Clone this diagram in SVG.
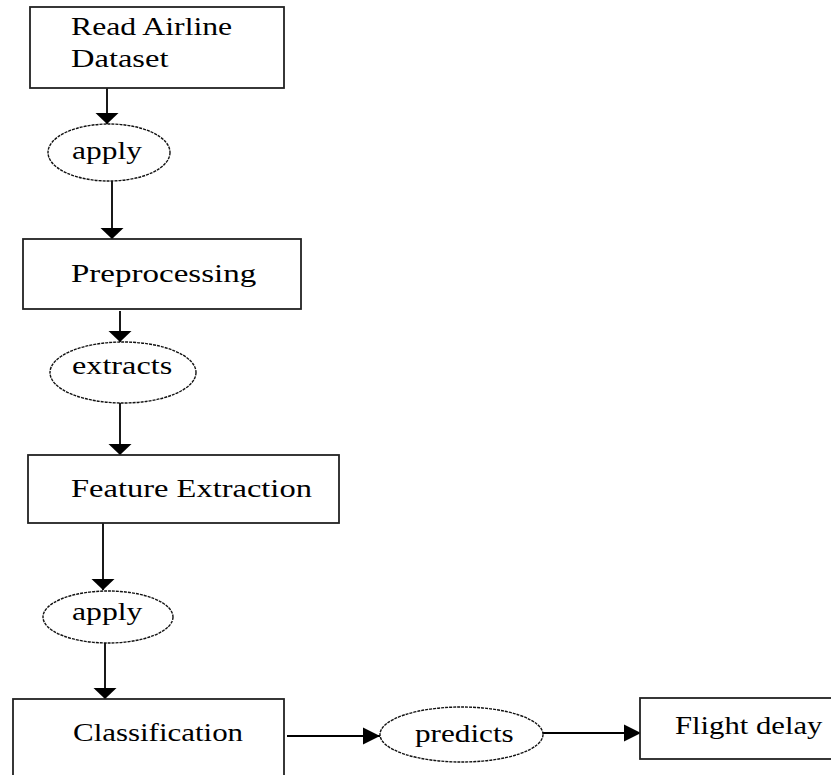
<svg xmlns="http://www.w3.org/2000/svg" width="831" height="775" viewBox="0 0 831 775">
<style>
.box{fill:#fff;stroke:#222;stroke-width:1.8}
.ell{fill:#fff;stroke:#111;stroke-width:1.4;stroke-dasharray:3,1}
.t{font-family:"Liberation Serif","Times New Roman",serif;font-size:26px;fill:#000}
.c{stroke:#000;stroke-width:1.8;fill:none}
</style>
<defs>
<marker id="av" markerUnits="userSpaceOnUse" markerWidth="12" markerHeight="24" refX="11" refY="12" orient="auto" viewBox="0 0 12 24">
<path d="M0,0.5 L11,12 L0,23.5 Z" fill="#000"/>
</marker>
<marker id="ah" markerUnits="userSpaceOnUse" markerWidth="17" markerHeight="18" refX="17" refY="9" orient="auto" viewBox="0 0 17 18">
<path d="M0,0.5 L17,9 L0,17.5 Z" fill="#000"/>
</marker>
</defs>
<rect width="831" height="775" fill="#fff"/>
<g id="connectors">
<line class="c" x1="107" y1="88" x2="107" y2="124" marker-end="url(#av)"/>
<line class="c" x1="112" y1="181" x2="112" y2="239" marker-end="url(#av)"/>
<line class="c" x1="120" y1="311" x2="120" y2="342" marker-end="url(#av)"/>
<line class="c" x1="120" y1="403" x2="120" y2="455" marker-end="url(#av)"/>
<line class="c" x1="103" y1="523" x2="103" y2="590" marker-end="url(#av)"/>
<line class="c" x1="105" y1="643" x2="105" y2="699" marker-end="url(#av)"/>
<line class="c" x1="287" y1="736" x2="380" y2="736" marker-end="url(#ah)"/>
<line class="c" x1="543" y1="733" x2="641" y2="733" marker-end="url(#ah)"/>
</g>
<g id="read-dataset">
<rect class="box" x="30" y="7" width="254" height="81"/>
<text class="t" transform="translate(71,35) scale(1.22,1)">Read Airline</text>
<text class="t" transform="translate(71,67) scale(1.25,1)">Dataset</text>
</g>
<g id="apply1">
<ellipse class="ell" cx="109" cy="152.5" rx="61" ry="28.5"/>
<text class="t" transform="translate(72,159) scale(1.21,1)">apply</text>
</g>
<g id="preprocessing">
<rect class="box" x="23" y="239" width="278" height="70"/>
<text class="t" transform="translate(71,282) scale(1.27,1)">Preprocessing</text>
</g>
<g id="extracts">
<ellipse class="ell" cx="123" cy="372.5" rx="73" ry="30.5"/>
<text class="t" transform="translate(72,374) scale(1.24,1)">extracts</text>
</g>
<g id="feature-extraction">
<rect class="box" x="28" y="455" width="311" height="68"/>
<text class="t" transform="translate(71,497) scale(1.25,1)">Feature Extraction</text>
</g>
<g id="apply2">
<ellipse class="ell" cx="108" cy="617" rx="65" ry="26"/>
<text class="t" transform="translate(72,620) scale(1.22,1)">apply</text>
</g>
<g id="classification">
<rect class="box" x="13" y="699" width="271" height="90"/>
<text class="t" transform="translate(73,741) scale(1.19,1)">Classification</text>
</g>
<g id="predicts">
<ellipse class="ell" cx="461.5" cy="734.5" rx="81.5" ry="27.5"/>
<text class="t" transform="translate(415,742) scale(1.2,1)">predicts</text>
</g>
<g id="flight-delay">
<rect class="box" x="640" y="698" width="200" height="61"/>
<text class="t" transform="translate(675,734) scale(1.18,1)">Flight delay</text>
</g>
</svg>
